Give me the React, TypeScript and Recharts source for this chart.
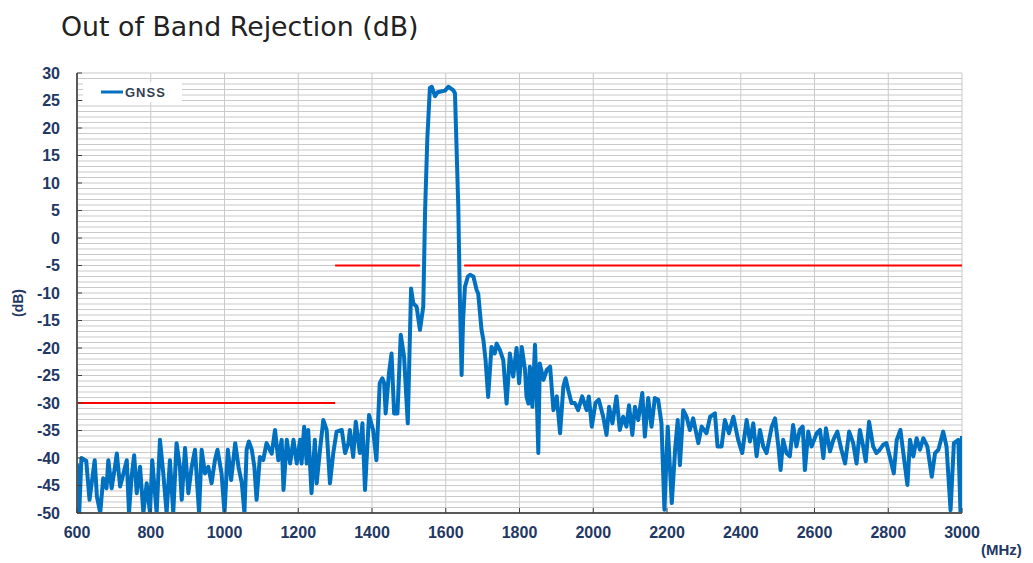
import React from "react";
import {
  LineChart,
  Line,
  XAxis,
  YAxis,
  CartesianGrid,
  ReferenceLine,
  Legend,
} from "recharts";

// ---- Data ----
const freqMHz: number[] = [
  600, 606, 612, 625, 634, 648, 654, 663, 671, 680, 685, 694, 703, 708, 717, 726, 735, 741, 748, 755,
  762, 771, 780, 789, 798, 804, 816, 825, 834, 843, 852, 861, 870, 879, 884, 893, 902, 911, 920, 931,
  938, 947, 956, 965, 974, 981, 992, 1000, 1009, 1018, 1029, 1038, 1047, 1054, 1060, 1066, 1074, 1081, 1087, 1096,
  1105, 1114, 1128, 1137, 1146, 1155, 1160, 1169, 1178, 1187, 1196, 1205, 1209, 1216, 1223, 1227, 1236, 1245, 1250, 1259,
  1268, 1277, 1286, 1295, 1304, 1318, 1327, 1336, 1340, 1349, 1356, 1367, 1374, 1381, 1392, 1403, 1412, 1421, 1428, 1433,
  1437, 1446, 1453, 1460, 1469, 1478, 1487, 1497, 1506, 1512, 1521, 1530, 1539, 1544, 1550, 1557, 1562, 1571, 1578, 1584,
  1598, 1607, 1620, 1625, 1634, 1638, 1643, 1647, 1652, 1660, 1666, 1675, 1684, 1688, 1697, 1702, 1708, 1715, 1724, 1733,
  1738, 1747, 1756, 1765, 1774, 1783, 1792, 1799, 1806, 1815, 1819, 1824, 1828, 1835, 1842, 1846, 1851, 1855, 1865, 1874,
  1883, 1892, 1901, 1910, 1919, 1925, 1932, 1941, 1950, 1959, 1970, 1982, 1988, 1996, 2006, 2015, 2027, 2036, 2043, 2052,
  2063, 2072, 2081, 2090, 2097, 2106, 2113, 2122, 2133, 2140, 2149, 2158, 2167, 2176, 2185, 2193, 2202, 2213, 2222, 2229,
  2235, 2244, 2253, 2262, 2271, 2285, 2294, 2307, 2317, 2330, 2337, 2348, 2357, 2368, 2380, 2393, 2404, 2416, 2425, 2434,
  2443, 2452, 2461, 2470, 2484, 2493, 2502, 2508, 2515, 2524, 2533, 2542, 2551, 2560, 2568, 2574, 2583, 2592, 2606, 2615,
  2624, 2631, 2642, 2651, 2662, 2673, 2683, 2694, 2705, 2714, 2723, 2732, 2739, 2748, 2759, 2768, 2777, 2786, 2795, 2804,
  2815, 2823, 2833, 2842, 2852, 2859, 2868, 2877, 2886, 2895, 2906, 2918, 2927, 2936, 2949, 2958, 2969, 2978, 2990, 2996,
  3000,
];

const gnssDb: number[] = [
  -41, -50, -40, -40.5, -47.6, -40.4, -47, -50, -43.7, -45.5, -40.4, -45.5, -41.6, -39.2, -45.2, -42.8, -40.4, -50, -43.4, -39.5,
  -46.4, -41.6, -50, -44.6, -50, -40.4, -50, -36.7, -42.8, -50, -40.4, -50, -37.3, -41.6, -47.6, -38.2, -46.4, -41.6, -38.5, -50,
  -38.5, -42.8, -41.6, -44.6, -40.4, -38.5, -42.8, -50, -38.5, -44, -37.3, -41.6, -44.6, -50, -38.5, -37, -38.5, -41.6, -47.6, -39.8,
  -40.4, -37.3, -39.2, -34.9, -40.4, -36.7, -45.8, -36.7, -41, -36.7, -41, -36.7, -41, -34.3, -41, -34.9, -46.4, -36.7, -44.6, -38.5,
  -33.1, -34.9, -44.6, -39.1, -35.2, -34.9, -39.1, -37.3, -34.9, -39.8, -33.4, -39.1, -33.7, -45.8, -32.2, -34.9, -40.4, -26.4, -25.5, -26.4,
  -31.9, -24.6, -21, -31.9, -31.9, -17.6, -21.6, -33.7, -9.2, -11.9, -12.5, -16.7, -12.5, 5, 18, 27.3, 27.5, 25.8, 26.5, 26.6,
  26.8, 27.5, 26.9, 26.3, 5.7, -10, -24.9, -15, -8.9, -7, -6.7, -7, -9.5, -10.1, -16.7, -18.5, -22.2, -28.9, -19.8, -21,
  -19.2, -20.4, -22.2, -30.1, -21, -25.2, -20, -26.4, -19.8, -24, -28.8, -30.1, -23.4, -30.7, -19.4, -27, -39.1, -22.8, -25.8, -24,
  -23.4, -31.3, -28.8, -35.5, -27, -25.5, -27.6, -30, -30, -31.3, -28.8, -31.3, -28.8, -34.3, -30, -29.4, -32.5, -35.8, -30.7, -33.7,
  -28.8, -34.9, -32.5, -34.3, -30.4, -35.8, -30.7, -33.1, -28.2, -36.1, -29.1, -34.3, -29.1, -29.4, -33.7, -49.4, -34.3, -48.2, -38.5, -33.1,
  -41.3, -31.3, -32.5, -34.9, -32.8, -37.3, -34.3, -35.5, -32.5, -31.9, -37.9, -37.9, -33.1, -35.5, -32.5, -36.7, -39.1, -33.1, -37, -33.7,
  -39.7, -34.9, -37.9, -39.1, -34.3, -32.8, -37.9, -42.2, -36.7, -39.1, -39.7, -34, -37.9, -34.9, -34.3, -42.2, -35.2, -37.9, -35.5, -34.9,
  -40, -34.6, -38.8, -36.7, -35.2, -38.5, -41, -35.2, -37.3, -41, -34.9, -37.9, -40.6, -33.4, -37.9, -39.1, -38.5, -37.6, -37.3, -39.7,
  -42.8, -36.7, -34.9, -39.7, -44.9, -36.7, -39.7, -36.4, -38.5, -36.4, -37.9, -43.4, -39.1, -38.5, -35.2, -37.9, -49.5, -37.3, -36.7, -50,
  -36,
];

const xTicks: number[] = [600, 800, 1000, 1200, 1400, 1600, 1800, 2000, 2200, 2400, 2600, 2800, 3000];
const yTicks: number[] = [-50, -45, -40, -35, -30, -25, -20, -15, -10, -5, 0, 5, 10, 15, 20, 25, 30];

// limit (spec) lines
const limitStartMHz: number[] = [600, 1300, 1650];
const limitEndMHz: number[] = [1300, 1530, 3000];
const limitDb: number[] = [-30, -5, -5];

const seriesName = "GNSS";

const data = freqMHz.map((f, i) => ({ f, gnss: gnssDb[i] }));
const limits = limitDb.map((db, i) => ({ x1: limitStartMHz[i], x2: limitEndMHz[i], db }));

// horizontal grid every 1 dB
const yMin = yTicks[0];
const yMax = yTicks[yTicks.length - 1];
const gridDb: number[] = [];
for (let v = yMin; v <= yMax; v += 1) gridDb.push(v);

const NAVY = "#1F3864";
const BLUE = "#0070C0";

const YTick = (props: any) => {
  const { x, y, payload } = props;
  return (
    <g>
      <text
        x={x}
        y={y}
        dy={5.5}
        textAnchor="end"
        fontFamily="'Liberation Sans', Arial, sans-serif"
        fontWeight="bold"
        fontSize={16}
        fill={NAVY}
      >
        {payload.value}
      </text>
      <line x1={x + 17} x2={x + 22} y1={y} y2={y} stroke="#404040" strokeWidth={1} />
    </g>
  );
};

const XTick = (props: any) => {
  const { x, y, payload } = props;
  return (
    <g>
      <text
        x={x}
        y={y}
        dy={25}
        textAnchor="middle"
        fontFamily="'Liberation Sans', Arial, sans-serif"
        fontWeight="bold"
        fontSize={16}
        fill={NAVY}
      >
        {payload.value}
      </text>
      <line x1={x} x2={x} y1={y} y2={y - 5} stroke="#404040" strokeWidth={1} />
    </g>
  );
};

const LegendBox = () => (
  <div
    style={{
      background: "#fff",
      width: 99,
      height: 20,
      display: "flex",
      alignItems: "center",
      boxSizing: "border-box",
      paddingLeft: 18,
    }}
  >
    <svg width={22} height={6} style={{ display: "block" }}>
      <line x1={0} x2={22} y1={3} y2={3} stroke={BLUE} strokeWidth={3} />
    </svg>
    <span
      style={{
        fontFamily: "'Liberation Sans', Arial, sans-serif",
        fontWeight: "bold",
        fontSize: 13,
        letterSpacing: 1,
        color: "#333F50",
        marginLeft: 2,
      }}
    >
      {seriesName}
    </span>
  </div>
);

export default function App() {
  return (
    <div
      style={{
        position: "absolute",
        left: 0,
        top: 0,
        width: 1033,
        height: 563,
        background: "#fff",
        overflow: "hidden",
      }}
    >
      <div
        style={{
          position: "absolute",
          left: 61,
          top: 10,
          fontFamily: "'DejaVu Sans', Verdana, sans-serif",
          fontSize: 26.8,
          lineHeight: "34px",
          color: "#222",
          whiteSpace: "nowrap",
        }}
      >
        Out of Band Rejection (dB)
      </div>
      <LineChart
        width={1033}
        height={563}
        data={data}
        margin={{ top: 73, right: 71, bottom: 20, left: 17 }}
      >
        <CartesianGrid
          stroke="#c9c9c9"
          strokeWidth={1}
          horizontalValues={gridDb}
          vertical={true}
        />
        <XAxis
          dataKey="f"
          type="number"
          domain={[600, 3000]}
          ticks={xTicks}
          interval={0}
          height={30}
          tickSize={0}
          tickMargin={0}
          tick={<XTick />}
          axisLine={{ stroke: "#595959", strokeWidth: 2 }}
          allowDataOverflow
        />
        <YAxis
          type="number"
          domain={[yMin, yMax]}
          ticks={yTicks}
          interval={0}
          width={60}
          tickSize={0}
          tickMargin={17}
          tick={<YTick />}
          axisLine={{ stroke: "#595959", strokeWidth: 2 }}
          allowDataOverflow
        />
        {limits.map((s, i) => (
          <ReferenceLine
            key={i}
            segment={[
              { x: s.x1, y: s.db },
              { x: s.x2, y: s.db },
            ]}
            stroke="#FF0000"
            strokeWidth={2}
            ifOverflow="hidden"
          />
        ))}
        <Line
          type="linear"
          dataKey="gnss"
          name={seriesName}
          stroke={BLUE}
          strokeWidth={4}
          dot={false}
          activeDot={false}
          isAnimationActive={false}
          strokeLinejoin="round"
        />
        <Legend
          verticalAlign="middle"
          layout="horizontal"
          content={<LegendBox />}
          wrapperStyle={{ left: 83, top: 82, width: 99, height: 20 }}
        />
      </LineChart>
      <div
        style={{
          position: "absolute",
          left: -12,
          top: 293,
          width: 60,
          height: 20,
          lineHeight: "20px",
          textAlign: "center",
          transform: "rotate(-90deg)",
          fontFamily: "'Liberation Sans', Arial, sans-serif",
          fontWeight: "bold",
          fontSize: 14,
          color: NAVY,
        }}
      >
        (dB)
      </div>
      <div
        style={{
          position: "absolute",
          left: 981,
          top: 541,
          fontFamily: "'Liberation Sans', Arial, sans-serif",
          fontWeight: "bold",
          fontSize: 15,
          lineHeight: "18px",
          color: NAVY,
        }}
      >
        (MHz)
      </div>
    </div>
  );
}
